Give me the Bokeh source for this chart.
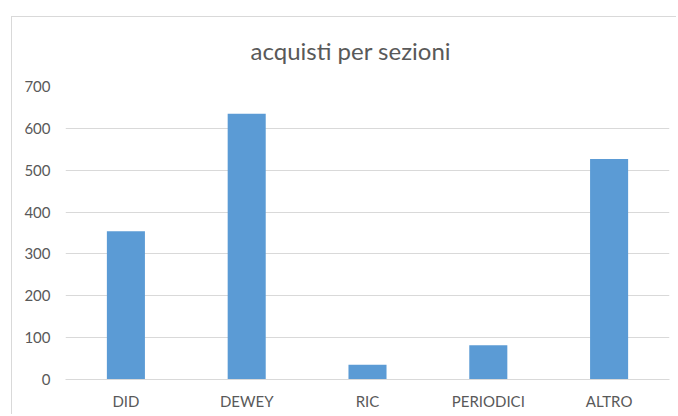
from bokeh.plotting import figure
from bokeh.models import Range1d, ColumnDataSource, FixedTicker
from bokeh.embed import file_html
from bokeh.resources import INLINE

categories = ["DID", "DEWEY", "RIC", "PERIODICI", "ALTRO"]
values = [354, 635, 35, 82, 527]
y_ticks = [0, 100, 200, 300, 400, 500, 600, 700]
title_text = "acquisti per sezioni"

FONT = "Lato"
TEXT_COLOR = "#595959"
GRID = "#d9d9d9"
BAR = "#5b9bd5"

src = ColumnDataSource(data=dict(cat=categories, val=values))

p = figure(x_range=categories, y_range=Range1d(0, 700),
           width=676, height=414, output_backend="svg", toolbar_location=None,
           min_border_left=65, min_border_right=7, min_border_top=86, min_border_bottom=35)
# chart-area border (top and left edges), drawn as host-element background
p.styles = {"background": "linear-gradient(#d9d9d9,#d9d9d9) 11px 16px / 1px 100% no-repeat, "
                          "linear-gradient(#d9d9d9,#d9d9d9) 11px 16px / 100% 1px no-repeat, white"}
p.outline_line_color = None
p.background_fill_color = "white"
p.border_fill_color = None

p.title.text = title_text
p.title.align = "left"
p.title.offset = 185
p.title.standoff = 44
p.title.text_font = FONT
p.title.text_font_size = "24px"
p.title.text_font_style = "normal"
p.title.text_color = TEXT_COLOR

p.vbar(x="cat", top="val", width=0.315, source=src, fill_color=BAR, line_color=None)

p.xgrid.grid_line_color = None
p.ygrid.grid_line_color = GRID
p.ygrid.grid_line_width = 1

p.yaxis.ticker = FixedTicker(ticks=y_ticks)
p.yaxis.axis_line_color = None
p.yaxis.major_tick_line_color = None
p.yaxis.minor_tick_line_color = None
p.yaxis.major_tick_out = 0
p.yaxis.major_label_standoff = 15

p.xaxis.axis_line_color = GRID
p.xaxis.major_tick_line_color = None
p.xaxis.major_tick_out = 0
p.xaxis.major_label_standoff = 12

for ax in (p.xaxis[0], p.yaxis[0]):
    ax.major_label_text_font = FONT
    ax.major_label_text_font_size = "15px"
    ax.major_label_text_color = TEXT_COLOR

open("out.html", "w").write(file_html(p, INLINE))
